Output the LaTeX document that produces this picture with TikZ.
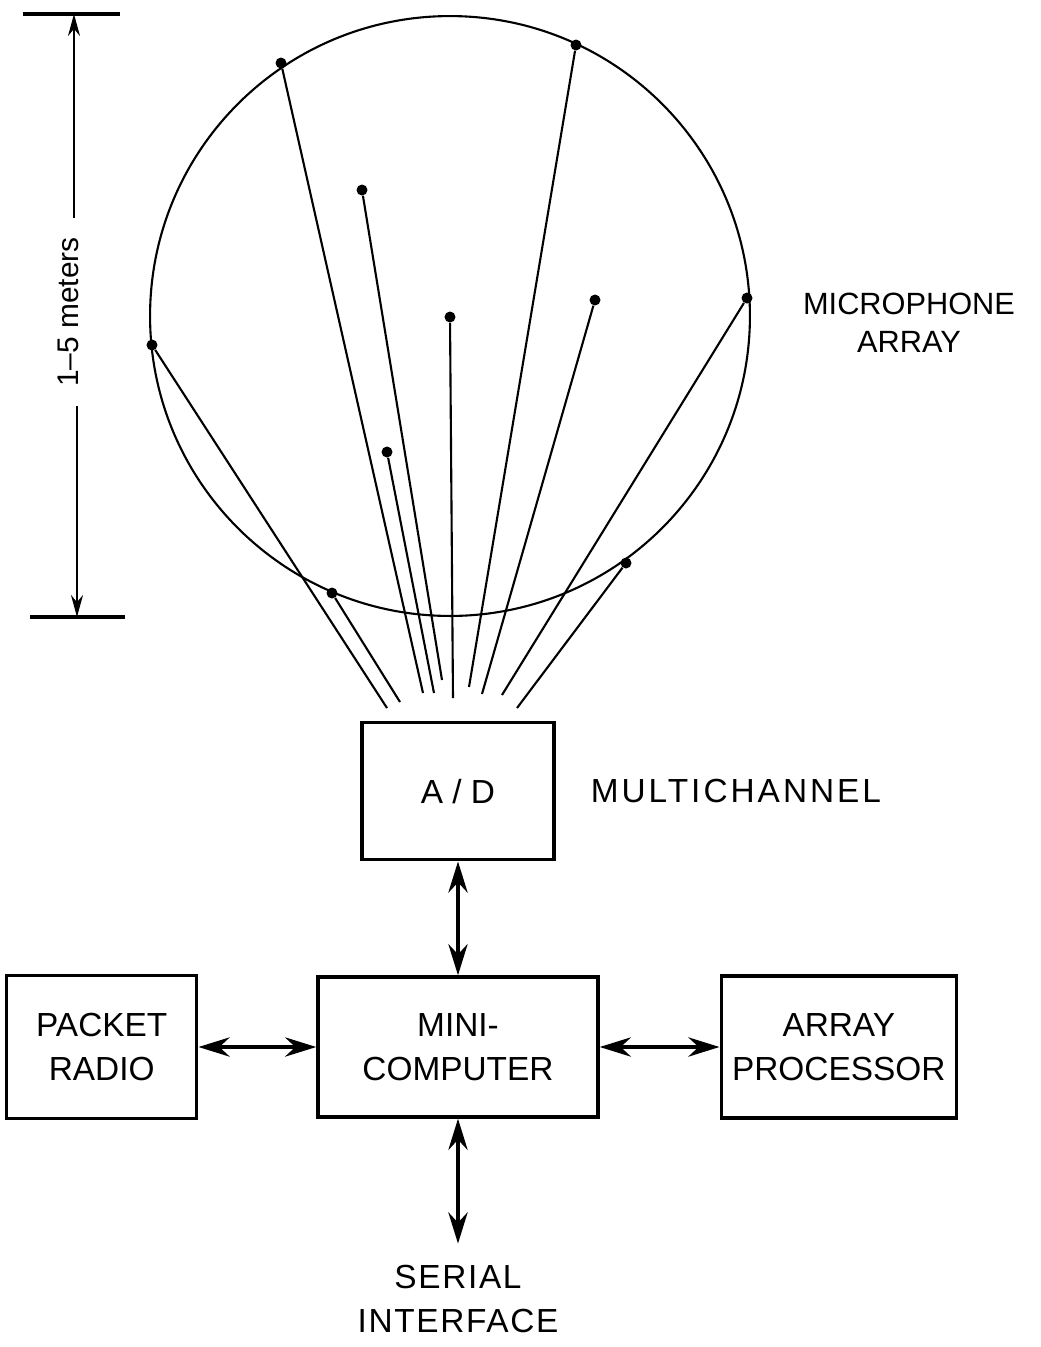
\documentclass[tikz,border=0pt]{standalone}
\usepackage{fontspec}
\setmainfont{Liberation Sans}
\usepackage{tikz}
\usetikzlibrary{arrows.meta,calc,positioning}

\newcommand{\lettering}{\fontsize{19}{25}\selectfont}

\begin{document}
\begin{tikzpicture}[x=0.02cm,y=-0.02cm,
  box/.style={draw,line width=1.9pt,align=center,font=\lettering},
  mic/.style={circle,fill,inner sep=0pt,minimum size=2.2mm},
  lead/.style={line width=1.2pt},
  link/.style={{Stealth[length=6.2mm,width=3.8mm,inset=2mm]}-{Stealth[length=6.2mm,width=3.8mm,inset=2mm]},line width=2.8pt},
  dim/.style={-{Stealth[length=4.4mm,width=2.4mm]},line width=1.2pt},
  tick/.style={line width=2.4pt}]
\useasboundingbox (0,0) rectangle (1041,1347);

% Microphone array
\coordinate (ctr) at (450,316);
\draw[line width=1.2pt] (ctr) circle (6cm);
\node[font=\fontsize{17.5}{21.6}\selectfont,align=center] (arraylbl) at (909,323) {MICROPHONE\\ARRAY};

% Microphones and their leads
\foreach \n/\x/\y/\ex/\ey in {1/281/63/423/693, 2/576/45/469/687, 3/152/345/387/708,
    4/747/298/502/695, 5/332/593/400/702, 6/626/563/517/708, 7/362/190/442/680,
    8/450/317/453/698, 9/595/300/482/694, 10/387/452/434/693}{
  \node[mic] (mic\n) at (\x,\y) {};
  \coordinate (lead\n) at (\ex,\ey);
  \draw[lead] (mic\n) -- (lead\n);
}

% Size of the array
\node[font=\fontsize{17}{20}\selectfont,rotate=90,inner xsep=0.38cm] (dimlbl) at (68,312) {1--5 meters};
\coordinate (dimtop) at (74,14);
\coordinate (dimbot) at (77,617);
\draw[tick] ([xshift=-1.02cm]dimtop) -- ([xshift=0.92cm]dimtop);
\draw[tick] ([xshift=-0.94cm]dimbot) -- ([xshift=0.96cm]dimbot);
\draw[dim] (dimlbl.east -| dimtop) -- (dimtop);
\draw[dim] (dimlbl.west -| dimbot) -- (dimbot);

% Processing chain
\node[box,minimum width=5.6cm,minimum height=2.8cm] (mini) at (458,1047) {MINI-\\COMPUTER};
\node[box,minimum width=3.84cm,minimum height=2.74cm,above=2.28cm of mini] (adc) {A / D};
\node[font=\lettering\addfontfeature{LetterSpace=9},right=0.58cm of adc] (multi) {MULTICHANNEL};
\node[box,minimum width=3.8cm,minimum height=2.86cm,left=2.36cm of mini] (packet) {PACKET\\RADIO};
\node[box,minimum width=4.7cm,minimum height=2.84cm,right=2.4cm of mini] (array) {ARRAY\\PROCESSOR};
\node[font=\lettering\addfontfeature{LetterSpace=5},align=center,below=2.8cm of mini] (serial) {SERIAL\\INTERFACE};

\draw[link] (adc) -- (mini);
\draw[link] (packet) -- (mini);
\draw[link] (mini) -- (array);
\draw[link] (mini) -- ([yshift=0.3cm]serial.north);
\end{tikzpicture}
\end{document}
